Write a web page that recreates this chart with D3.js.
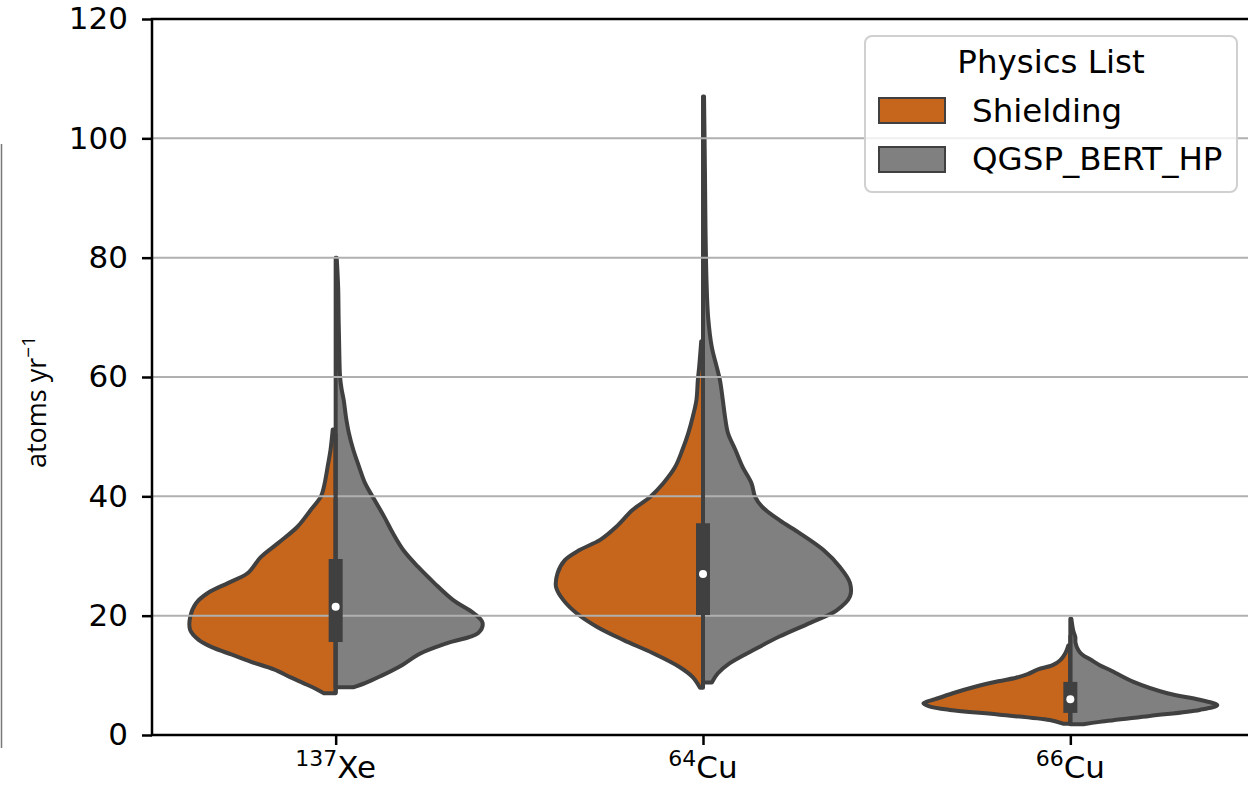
<!DOCTYPE html>
<html>
<head>
<meta charset="utf-8">
<script src="https://cdn.jsdelivr.net/npm/d3@7"></script>
<style>
  html, body { margin: 0; padding: 0; background: #fff; }
  svg { display: block; }
  text { font-family: "DejaVu Sans", sans-serif; fill: #000; }
</style>
</head>
<body>
<svg id="chart" width="1248" height="786"></svg>
<script>
// ---------------- data ----------------
const categories = ["137Xe", "64Cu", "66Cu"];
const massNumbers = ["137", "64", "66"];
const elements = ["Xe", "Cu", "Cu"];
const seriesNames = ["Shielding", "QGSP_BERT_HP"];
const yTicks = [0, 20, 40, 60, 80, 100, 120];

// density profiles: [value (atoms/yr), relative half-width 0..1]
const xeShielding = [[7.0,.08],[7.8,.14],[8.7,.22],[9.7,.31],[11.0,.42],[12.3,.58],[13.5,.71],[14.6,.83],[15.9,.93],[17.6,.99],[19.8,.99],[22.1,.95],[23.8,.87],[25.5,.73],[27.1,.60],[29.8,.51],[32.2,.39],[34.9,.26],[37.7,.17],[40.0,.10],[41.6,.08],[44.9,.055],[47.8,.035],[51.2,.02]];
const xeQgsp = [[8.0,.12],[8.7,.20],[9.8,.30],[11.4,.43],[13.7,.58],[15.4,.76],[17.1,.97],[18.8,1.0],[20.4,.94],[22.6,.80],[25.5,.67],[28.2,.56],[31.0,.46],[33.8,.39],[36.6,.33],[40.0,.25],[42.2,.20],[44.9,.16],[47.8,.12],[50.6,.09],[53.3,.07],[56.1,.055],[58.0,.04],[60.0,.03],[65.0,.024],[70.0,.02],[75.0,.017],[80.0,.007]];
const cu64Shielding = [[7.9,.02],[9.7,.07],[11.4,.16],[13.7,.34],[15.9,.54],[18.1,.72],[20.4,.86],[22.6,.95],[24.8,1.0],[27.1,.99],[29.3,.94],[31.0,.84],[32.7,.70],[34.9,.59],[37.7,.48],[39.9,.36],[42.2,.27],[44.9,.19],[47.8,.14],[50.6,.10],[53.3,.07],[56.1,.045],[59.5,.035],[62.0,.025],[66.0,.012]];
const cu64Qgsp = [[8.8,.06],[10.3,.10],[12.0,.18],[14.2,.34],[16.5,.52],[18.8,.73],[20.9,.91],[23.2,1.0],[25.5,1.0],[28.2,.93],[31.0,.82],[33.8,.66],[36.0,.52],[38.3,.40],[39.9,.355],[42.2,.33],[44.9,.27],[47.8,.22],[50.6,.17],[53.3,.15],[56.1,.135],[59.5,.115],[62.0,.09],[65.0,.06],[70.0,.035],[76.0,.024],[85.0,.017],[95.0,.013],[107.0,.007]];
const cu66Shielding = [[1.9,.05],[2.5,.14],[3.4,.48],[4.2,.82],[4.8,.96],[5.3,1.0],[6.0,.92],[7.0,.80],[8.0,.66],[9.0,.49],[9.6,.37],[10.2,.29],[11.0,.22],[11.7,.12],[12.5,.07],[13.7,.034],[15.0,.014]];
const cu66Qgsp = [[1.8,.09],[2.2,.20],[3.2,.54],[4.2,.88],[5.0,1.0],[5.9,.88],[7.0,.66],[8.9,.43],[10.9,.27],[11.7,.20],[12.6,.14],[13.5,.08],[14.2,.055],[15.5,.035],[16.4,.034],[17.5,.02],[19.5,.007]];

const shieldingProfiles = [xeShielding, cu64Shielding, cu66Shielding];
const qgspProfiles = [xeQgsp, cu64Qgsp, cu66Qgsp];

// inner box statistics (combined): [whiskerLow, q1, median, q3, whiskerHigh]
const boxStats = [
  [7.0, 15.6, 21.5, 29.5, 50.5],
  [8.0, 20.1, 27.0, 35.5, 58.5],
  [1.8, 3.7, 6.0, 8.9, 16.7]
];

(function () {
// ---------------- layout ----------------
const svg = d3.select("#chart");
const mLeft = 152, mTop = 19, mBottom = 735, mRight = 1254;
const colors = ["#c6661d", "#808080"];
const edge = "#404040";

const x = d3.scalePoint().domain(categories).range([mLeft, mRight]).padding(0.5);
const y = d3.scaleLinear().domain([0, 120]).range([mBottom, mTop]);
const step = x.step();
const halfMax = 0.4 * step;

// thin vertical line at far left (part of the original figure)
svg.append("line").attr("x1", 1.5).attr("x2", 1.5).attr("y1", 144).attr("y2", 748)
  .attr("stroke", "#777").attr("stroke-width", 1.5);

const plot = svg.append("g");

// violins
function halfPath(cx, profile, dir) {
  const pts = profile.map(d => [cx + dir * d[1] * halfMax, y(d[0])]);
  const curve = d3.line().curve(d3.curveCatmullRom.alpha(0.5))(pts);
  const yb = y(profile[0][0]), yt = y(profile[profile.length - 1][0]);
  return `M${cx},${yb}` + curve.replace(/^M/, "L") + `L${cx},${yt}Z`;
}
categories.forEach((c, i) => {
  const cx = x(c);
  plot.append("path").attr("d", halfPath(cx, shieldingProfiles[i], -1))
    .attr("fill", colors[0]).attr("stroke", edge).attr("stroke-width", 4).attr("stroke-linejoin", "round");
  plot.append("path").attr("d", halfPath(cx, qgspProfiles[i], 1))
    .attr("fill", colors[1]).attr("stroke", edge).attr("stroke-width", 4).attr("stroke-linejoin", "round");
});

// gridlines (above violins, below inner box)
plot.append("g").selectAll("line").data(yTicks.filter(t => t > 0 && t < 120)).join("line")
  .attr("x1", mLeft).attr("x2", mRight).attr("y1", d => y(d)).attr("y2", d => y(d))
  .attr("stroke", "#b0b0b0").attr("stroke-width", 2);

// inner boxes
categories.forEach((c, i) => {
  const cx = x(c), s = boxStats[i];
  plot.append("line").attr("x1", cx).attr("x2", cx).attr("y1", y(s[0])).attr("y2", y(s[4]))
    .attr("stroke", edge).attr("stroke-width", 4);
  plot.append("line").attr("x1", cx).attr("x2", cx).attr("y1", y(s[1])).attr("y2", y(s[3]))
    .attr("stroke", edge).attr("stroke-width", 14);
  plot.append("circle").attr("cx", cx).attr("cy", y(s[2])).attr("r", 4).attr("fill", "#fff");
});

// axes
const yAxis = d3.axisLeft(y).tickValues(yTicks).tickSize(10).tickPadding(14);
const gy = svg.append("g").attr("transform", `translate(${mLeft},0)`).call(yAxis);
gy.select(".domain").remove();
gy.selectAll(".tick line").attr("stroke", "#000").attr("stroke-width", 2.5);
gy.selectAll(".tick text").attr("font-size", 31).attr("font-family", "DejaVu Sans").attr("fill", "#000");

const xAxis = d3.axisBottom(x).tickSize(10).tickFormat("");
const gx = svg.append("g").attr("transform", `translate(0,${mBottom})`).call(xAxis);
gx.select(".domain").remove();
gx.selectAll(".tick line").attr("stroke", "#000").attr("stroke-width", 2.5);

// x tick labels with superscript mass numbers
categories.forEach((c, i) => {
  const t = svg.append("text").attr("x", x(c)).attr("y", 778).attr("text-anchor", "middle")
    .attr("font-size", 31);
  t.append("tspan").attr("font-size", 22).attr("dy", -12).text(massNumbers[i]);
  t.append("tspan").attr("dy", 12).text(elements[i]);
});

// spines
svg.append("rect").attr("x", mLeft).attr("y", mTop).attr("width", mRight - mLeft).attr("height", mBottom - mTop)
  .attr("fill", "none").attr("stroke", "#000").attr("stroke-width", 2.5);

// y label
const yl = svg.append("text").attr("transform", "translate(46,402) rotate(-90)")
  .attr("text-anchor", "middle").attr("font-size", 27).style("font-family", "'Open Sans', sans-serif");
yl.append("tspan").text("atoms yr");
yl.append("tspan").attr("font-size", 19).attr("dy", -11).text("−1");

// legend
const lg = svg.append("g");
lg.append("rect").attr("x", 865).attr("y", 36).attr("width", 372).attr("height", 156).attr("rx", 7)
  .attr("fill", "#fff").attr("fill-opacity", 0.8).attr("stroke", "#d0d0d0").attr("stroke-width", 2);
lg.append("text").attr("x", 1051).attr("y", 73).attr("text-anchor", "middle").attr("font-size", 32.5).text("Physics List");
seriesNames.forEach((s, i) => {
  lg.append("rect").attr("x", 879).attr("y", 98 + i * 49).attr("width", 66).attr("height", 25)
    .attr("fill", colors[i]).attr("stroke", edge).attr("stroke-width", 2);
  lg.append("text").attr("x", 972).attr("y", 122 + i * 48).attr("font-size", 32.5).text(s);
});
})();
</script>
</body>
</html>
